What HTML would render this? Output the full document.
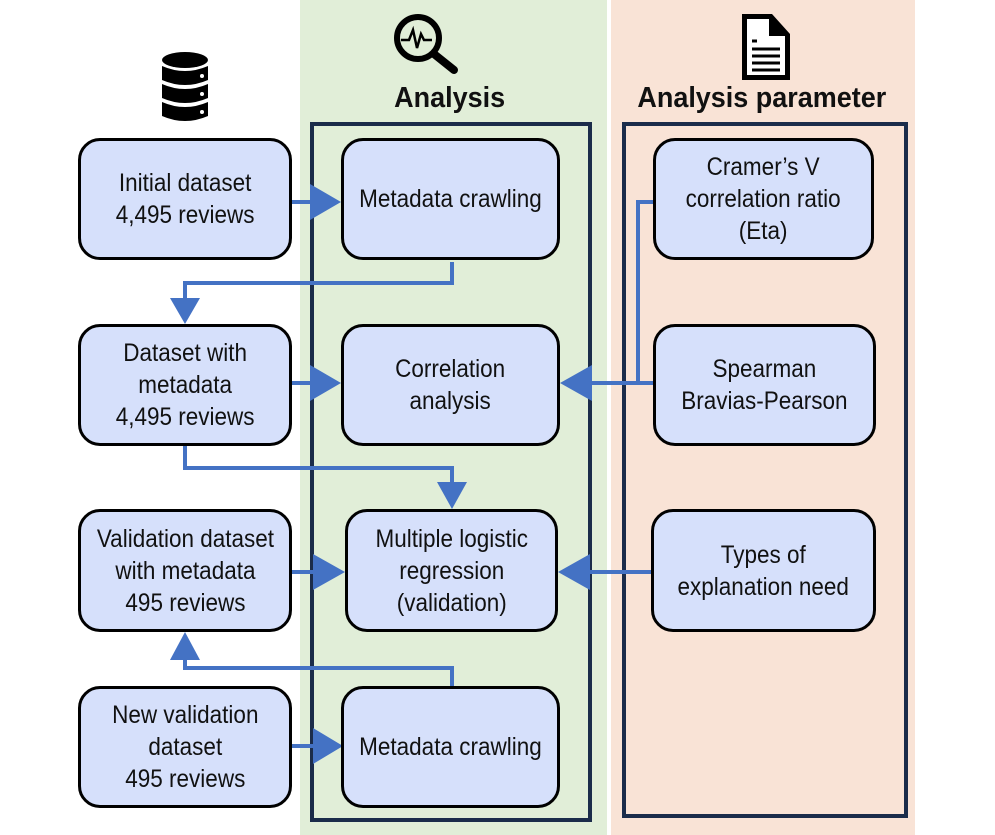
<!DOCTYPE html>
<html><head><meta charset="utf-8"><style>
body{margin:0;width:995px;height:835px;background:#fff;position:relative;overflow:hidden;font-family:"Liberation Sans",sans-serif;}
.bx{position:absolute;box-sizing:border-box;border:3.5px solid #000;border-radius:22px;background:#d6e0fb;display:flex;align-items:center;justify-content:center;text-align:center;color:#111;}
.bx span{display:inline-block;font-size:25px;line-height:32px;transform:scaleX(.9);white-space:nowrap;}
.lbl{position:absolute;font-size:29px;font-weight:bold;color:#111;text-align:center;}
.lbl span{display:inline-block;transform:scaleX(.93);white-space:nowrap;}
</style></head><body>
<div style="position:absolute;left:300px;top:0;width:307px;height:835px;background:#e1eed8"></div>
<div style="position:absolute;left:611px;top:0;width:304px;height:835px;background:#f9e3d6"></div>
<div style="position:absolute;left:310px;top:122px;width:282px;height:700px;box-sizing:border-box;border:4px solid #1b2c4a"></div>
<div style="position:absolute;left:622px;top:122px;width:286px;height:696px;box-sizing:border-box;border:4px solid #1b2c4a"></div>
<div class="lbl" style="left:350px;top:82px;width:200px"><span>Analysis</span></div>
<div class="lbl" style="left:602px;top:82px;width:320px"><span>Analysis parameter</span></div>

<svg width="995" height="835" style="position:absolute;left:0;top:0">
<g fill="#000">
<ellipse cx="185" cy="60" rx="23" ry="8"/>
<path d="M162 66 q23 10 46 0 v14 q-23 10 -46 0z"/>
<path d="M162 84 q23 10 46 0 v14 q-23 10 -46 0z"/>
<path d="M162 102 q23 10 46 0 v14 q-23 10 -46 0z"/>
<circle cx="202" cy="76" r="2" fill="#fff"/><circle cx="202" cy="94" r="2" fill="#fff"/><circle cx="202" cy="112" r="2" fill="#fff"/>
</g>
<circle cx="418" cy="38" r="21" fill="none" stroke="#000" stroke-width="6"/>
<path d="M401 40 h8 l4 -10 l4 18 l4 -14 l3 6 h8" fill="none" stroke="#000" stroke-width="2.5"/>
<line x1="434" y1="54" x2="454" y2="70" stroke="#000" stroke-width="8" stroke-linecap="round"/>
<path d="M742 14 h30 l18 20 v46 h-48z" fill="#000"/>
<path d="M747 19 h22 v17 h16 v39 h-38z" fill="#fff"/>
<g stroke="#000" stroke-width="3"><line x1="752" y1="41" x2="757" y2="41"/><line x1="752" y1="49" x2="780" y2="49"/><line x1="752" y1="56" x2="780" y2="56"/><line x1="752" y1="63" x2="780" y2="63"/><line x1="752" y1="70" x2="780" y2="70"/></g>
<g stroke="#4472c4" stroke-width="4" fill="none">
<line x1="292" y1="202" x2="312" y2="202"/>
<polyline points="452,262 452,283 185,283 185,300"/>
<line x1="292" y1="383" x2="312" y2="383"/>
<polyline points="185,446 185,468 452,468 452,484"/>
<line x1="292" y1="572" x2="314" y2="572"/>
<polyline points="452,686 452,668 185,668 185,656"/>
<line x1="292" y1="746" x2="314" y2="746"/>
<line x1="653" y1="383" x2="590" y2="383"/>
<polyline points="653,202 638,202 638,383"/>
<line x1="653" y1="572" x2="588" y2="572"/>
</g>
<g fill="#4472c4">
<polygon points="310,184 341,202 310,220"/>
<polygon points="170,298 200,298 185,324"/>
<polygon points="310,365 341,383 310,401"/>
<polygon points="437,482 467,482 452,509"/>
<polygon points="313,554 345,572 313,590"/>
<polygon points="170,660 200,660 185,632"/>
<polygon points="313,728 343,746 313,764"/>
<polygon points="592,365 560,383 592,401"/>
<polygon points="590,554 558,572 590,590"/>
</g>
</svg>

<div class="bx" style="left:78px;top:138px;width:214px;height:122px"><span>Initial dataset<br>4,495 reviews</span></div>
<div class="bx" style="left:78px;top:324px;width:214px;height:122px"><span>Dataset with<br>metadata<br>4,495 reviews</span></div>
<div class="bx" style="left:78px;top:509px;width:214px;height:123px"><span>Validation dataset<br>with metadata<br>495 reviews</span></div>
<div class="bx" style="left:78px;top:686px;width:214px;height:122px"><span>New validation<br>dataset<br>495 reviews</span></div>
<div class="bx" style="left:341px;top:138px;width:219px;height:122px"><span>Metadata crawling</span></div>
<div class="bx" style="left:341px;top:324px;width:219px;height:122px"><span>Correlation<br>analysis</span></div>
<div class="bx" style="left:345px;top:509px;width:213px;height:123px"><span>Multiple logistic<br>regression<br>(validation)</span></div>
<div class="bx" style="left:341px;top:686px;width:219px;height:122px"><span>Metadata crawling</span></div>
<div class="bx" style="left:653px;top:138px;width:221px;height:122px"><span>Cramer’s V<br>correlation ratio<br>(Eta)</span></div>
<div class="bx" style="left:653px;top:324px;width:223px;height:122px"><span>Spearman<br>Bravias-Pearson</span></div>
<div class="bx" style="left:651px;top:509px;width:225px;height:123px"><span>Types of<br>explanation need</span></div>
</body></html>
